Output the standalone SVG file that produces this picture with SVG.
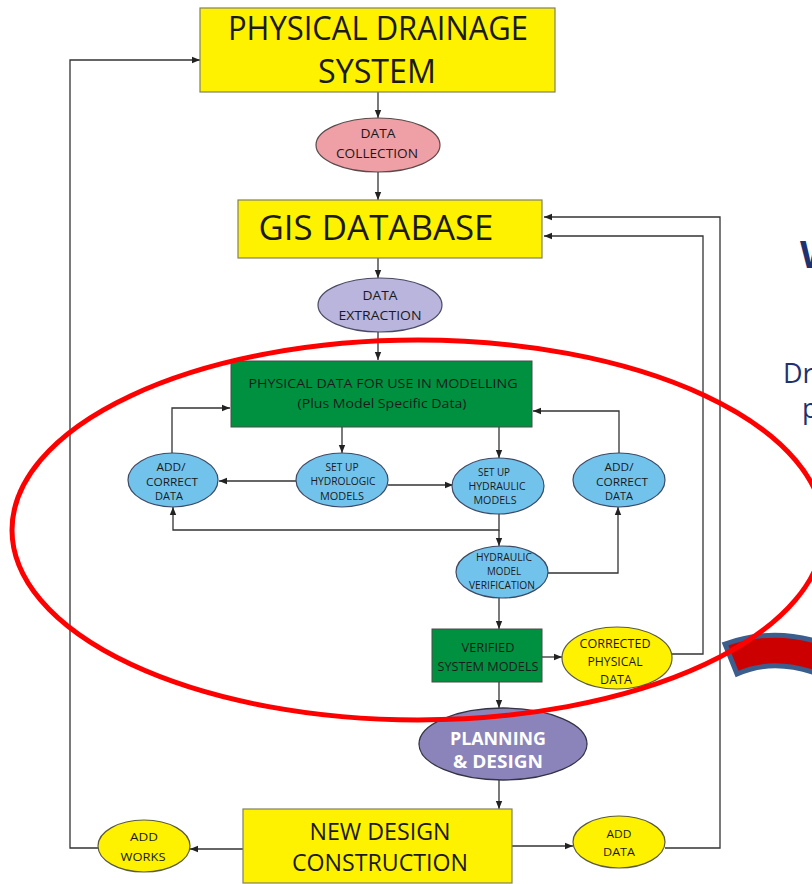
<svg xmlns="http://www.w3.org/2000/svg" width="812" height="884" viewBox="0 0 812 884">
  <style>
    text { font-family: "Open Sans", "Noto Sans", "Liberation Sans", sans-serif; fill: #1a1a1a; text-anchor: middle; }
    .yb { fill: #fff200; stroke: #808060; stroke-width: 1.2; }
    .gb { fill: #009140; stroke: #4a4a4a; stroke-width: 1; }
    .blue { fill: #72c3ec; stroke: #3d4a66; stroke-width: 1.2; }
    .yel { fill: #fff200; stroke: #5a5a40; stroke-width: 1.2; }
    .big { font-size: 32px; }
    .gis { font-size: 34px; }
    .mid { font-size: 13px; }
    .sm { font-size: 10.5px; }
    .vm { font-size: 12px; }
    .nd { font-size: 24px; }
    .pd { font-size: 18px; font-weight: bold; fill: #ffffff; }
    .conn path, .conn line { fill: none; stroke: #333333; stroke-width: 1.3; }
    .side { font-family: "Open Sans", "Noto Sans", sans-serif; fill: #1f3270; text-anchor: start; }
  </style>
  <defs>
    <marker id="arr" viewBox="0 0 8 8" refX="8" refY="4" markerWidth="8" markerHeight="8" markerUnits="userSpaceOnUse" orient="auto">
      <path d="M0,0.8 L8,4 L0,7.2 Z" fill="#222222"/>
    </marker>
  </defs>

  <rect width="812" height="884" fill="#ffffff"/>

  <!-- connectors -->
  <g id="connectors" class="conn">
    <line x1="378" y1="92" x2="378" y2="118" marker-end="url(#arr)"/>
    <line x1="378" y1="172" x2="378" y2="200" marker-end="url(#arr)"/>
    <line x1="378" y1="258" x2="378" y2="278" marker-end="url(#arr)"/>
    <line x1="378" y1="332" x2="378" y2="360" marker-end="url(#arr)"/>
    <line x1="342" y1="427" x2="342" y2="453" marker-end="url(#arr)"/>
    <line x1="499" y1="427" x2="499" y2="458" marker-end="url(#arr)"/>
    <line x1="296" y1="481" x2="219" y2="481" marker-end="url(#arr)"/>
    <line x1="388" y1="485" x2="453" y2="485" marker-end="url(#arr)"/>
    <path d="M172,453 V408 H230" marker-end="url(#arr)"/>
    <path d="M619,453 V411 H533" marker-end="url(#arr)"/>
    <path d="M499,514 V530 H173 V507" marker-end="url(#arr)"/>
    <line x1="499" y1="530" x2="499" y2="546" marker-end="url(#arr)"/>
    <path d="M548,573 H618 V507" marker-end="url(#arr)"/>
    <line x1="499" y1="598" x2="499" y2="629" marker-end="url(#arr)"/>
    <line x1="542" y1="657" x2="562" y2="657" marker-end="url(#arr)"/>
    <path d="M672,654 H703 V236 H544" marker-end="url(#arr)"/>
    <line x1="499" y1="682" x2="499" y2="708" marker-end="url(#arr)"/>
    <line x1="499" y1="780" x2="499" y2="809" marker-end="url(#arr)"/>
    <line x1="243" y1="849" x2="190" y2="849" marker-end="url(#arr)"/>
    <path d="M98,848 H70 V60 H200" marker-end="url(#arr)"/>
    <line x1="512" y1="846" x2="573" y2="846" marker-end="url(#arr)"/>
    <path d="M665,848 H720 V217 H544" marker-end="url(#arr)"/>
  </g>

  <g id="physical-drainage-system">
    <rect class="yb" x="200" y="8" width="355" height="84"/>
    <text class="big" x="378" y="40" textLength="300" lengthAdjust="spacingAndGlyphs">PHYSICAL DRAINAGE</text>
    <text class="big" x="377" y="83" textLength="118" lengthAdjust="spacingAndGlyphs">SYSTEM</text>
  </g>

  <g id="data-collection">
    <ellipse cx="378" cy="145" rx="62" ry="27" fill="#ef9fa6" stroke="#5a4a4a" stroke-width="1.2"/>
    <text class="mid" x="378" y="138" textLength="35" lengthAdjust="spacingAndGlyphs">DATA</text>
    <text class="mid" x="377" y="158" textLength="82" lengthAdjust="spacingAndGlyphs">COLLECTION</text>
  </g>

  <g id="gis-database">
    <rect class="yb" x="238" y="200" width="304" height="58"/>
    <text class="gis" x="376" y="240" textLength="235" lengthAdjust="spacingAndGlyphs">GIS DATABASE</text>
  </g>

  <g id="data-extraction">
    <ellipse cx="380" cy="305" rx="62" ry="27" fill="#b9b5dc" stroke="#4a4a66" stroke-width="1.2"/>
    <text class="mid" x="380" y="300" fill="#333" textLength="35" lengthAdjust="spacingAndGlyphs">DATA</text>
    <text class="mid" x="380" y="320" textLength="83" lengthAdjust="spacingAndGlyphs">EXTRACTION</text>
  </g>

  <g id="physical-data">
    <rect class="gb" x="231" y="361" width="301" height="66"/>
    <text class="mid" x="383" y="388" textLength="269" lengthAdjust="spacingAndGlyphs">PHYSICAL DATA FOR USE IN MODELLING</text>
    <text class="mid" x="382" y="408" textLength="169" lengthAdjust="spacingAndGlyphs">(Plus Model Specific Data)</text>
  </g>

  <g id="add-correct-left">
    <ellipse class="blue" cx="173" cy="480" rx="45" ry="27"/>
    <text class="sm" x="171" y="471" textLength="29" lengthAdjust="spacingAndGlyphs">ADD/</text>
    <text class="sm" x="172" y="486" textLength="52" lengthAdjust="spacingAndGlyphs">CORRECT</text>
    <text class="sm" x="169" y="500" textLength="28" lengthAdjust="spacingAndGlyphs">DATA</text>
  </g>

  <g id="hydrologic-models">
    <ellipse class="blue" cx="342" cy="480" rx="46" ry="27"/>
    <text class="sm" x="342" y="471" textLength="33" lengthAdjust="spacingAndGlyphs">SET UP</text>
    <text class="sm" x="343" y="485" textLength="65" lengthAdjust="spacingAndGlyphs">HYDROLOGIC</text>
    <text class="sm" x="342" y="500" textLength="44" lengthAdjust="spacingAndGlyphs">MODELS</text>
  </g>

  <g id="hydraulic-models">
    <ellipse class="blue" cx="498" cy="486" rx="46" ry="28"/>
    <text class="sm" x="494" y="476" textLength="32" lengthAdjust="spacingAndGlyphs">SET UP</text>
    <text class="sm" x="497" y="490" textLength="57" lengthAdjust="spacingAndGlyphs">HYDRAULIC</text>
    <text class="sm" x="495" y="504" textLength="43" lengthAdjust="spacingAndGlyphs">MODELS</text>
  </g>

  <g id="add-correct-right">
    <ellipse class="blue" cx="619" cy="480" rx="46" ry="27"/>
    <text class="sm" x="619" y="471" textLength="29" lengthAdjust="spacingAndGlyphs">ADD/</text>
    <text class="sm" x="622" y="486" textLength="52" lengthAdjust="spacingAndGlyphs">CORRECT</text>
    <text class="sm" x="619" y="500" textLength="28" lengthAdjust="spacingAndGlyphs">DATA</text>
  </g>

  <g id="model-verification">
    <ellipse class="blue" cx="502" cy="572" rx="46" ry="26"/>
    <text class="sm" x="504" y="561" textLength="56" lengthAdjust="spacingAndGlyphs">HYDRAULIC</text>
    <text class="sm" x="504" y="575" textLength="34" lengthAdjust="spacingAndGlyphs">MODEL</text>
    <text class="sm" x="502" y="589" textLength="66" lengthAdjust="spacingAndGlyphs">VERIFICATION</text>
  </g>

  <g id="verified-models">
    <rect class="gb" x="432" y="629" width="110" height="53"/>
    <text class="vm" x="488" y="652" textLength="53" lengthAdjust="spacingAndGlyphs">VERIFIED</text>
    <text class="vm" x="488" y="671" textLength="101" lengthAdjust="spacingAndGlyphs">SYSTEM MODELS</text>
  </g>

  <g id="corrected-data">
    <ellipse class="yel" cx="617" cy="658" rx="55" ry="31"/>
    <text class="vm" x="615" y="648" textLength="71" lengthAdjust="spacingAndGlyphs">CORRECTED</text>
    <text class="vm" x="615" y="666" textLength="55" lengthAdjust="spacingAndGlyphs">PHYSICAL</text>
    <text class="vm" x="616" y="684" textLength="32" lengthAdjust="spacingAndGlyphs">DATA</text>
  </g>

  <g id="planning-design">
    <ellipse cx="503" cy="744" rx="84" ry="36" fill="#8b84ba" stroke="#333344" stroke-width="1.3"/>
    <text class="pd" x="498" y="745" textLength="96" lengthAdjust="spacingAndGlyphs">PLANNING</text>
    <text class="pd" x="498" y="768" textLength="90" lengthAdjust="spacingAndGlyphs">&amp; DESIGN</text>
  </g>

  <g id="new-design">
    <rect class="yb" x="243" y="809" width="269" height="74"/>
    <text class="nd" x="380" y="840" textLength="141" lengthAdjust="spacingAndGlyphs">NEW DESIGN</text>
    <text class="nd" x="380" y="871" textLength="176" lengthAdjust="spacingAndGlyphs">CONSTRUCTION</text>
  </g>

  <g id="add-works">
    <ellipse class="yel" cx="144" cy="846" rx="46" ry="26"/>
    <text class="sm" x="144" y="841" textLength="28" lengthAdjust="spacingAndGlyphs">ADD</text>
    <text class="sm" x="143" y="861" textLength="45" lengthAdjust="spacingAndGlyphs">WORKS</text>
  </g>

  <g id="add-data">
    <ellipse class="yel" cx="619" cy="842" rx="46" ry="26"/>
    <text class="sm" x="619" y="838" textLength="25" lengthAdjust="spacingAndGlyphs">ADD</text>
    <text class="sm" x="619" y="856" textLength="32" lengthAdjust="spacingAndGlyphs">DATA</text>
  </g>

  <!-- side heading fragments at the right edge -->
  <text class="side" x="800" y="268" font-size="38" font-weight="bold">W</text>
  <text class="side" x="783" y="383" font-size="27">Dra</text>
  <text class="side" x="802" y="418" font-size="27">p</text>

  <!-- curved block arrow entering from the right -->
  <path d="M725,644 Q770,628 815,641 L815,673 Q772,658 737,674 Z" fill="#cc0000" stroke="#3b5e8c" stroke-width="5" stroke-linejoin="miter"/>

  <!-- highlight ring -->
  <ellipse cx="418" cy="530" rx="406" ry="190" fill="none" stroke="#ff0000" stroke-width="5"/>
</svg>
